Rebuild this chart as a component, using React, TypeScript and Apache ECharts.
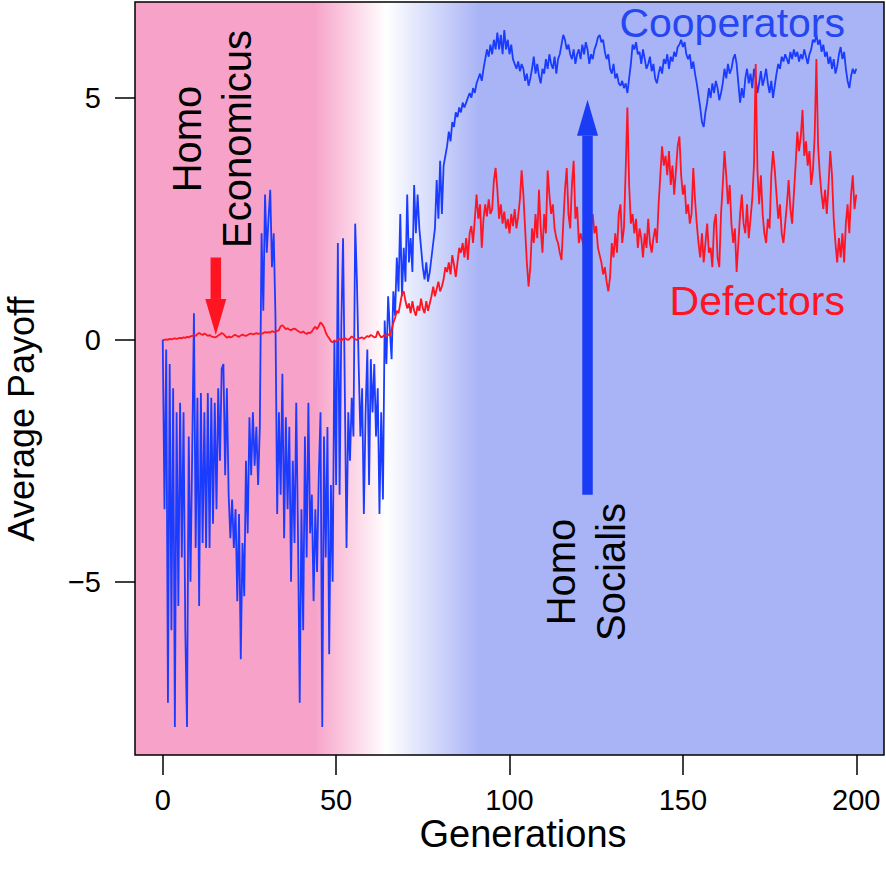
import React, { useEffect, useRef } from "react";
import * as echarts from "echarts";

// Sampling grid of the simulation (generations, every half generation)
const STEP = 0.5;

// Average payoff of cooperators, gen 0 .. 200 every 0.5
const cooperators: number[] = [
  0, -3.5, -0.2, -7.5, -0.5, -6, -1, -8.0, -1.5, -5.5, -1.3, -4.5, -1.5, -6, -8.0, -2, -5, -2.3, 0.55, -4.3,
  -1.2, -5.5, -1.1, -4.2, -1.5, -4.3, -1.1, -4.3, -1.2, -3.8, -1.3, -3.5, -1.0, -2.5, -0.6, -0.5, -2.8, -1.0, -3.2, -4.1,
  -3.3, -4.3, -3.5, -5.4, -3.6, -6.6, -4.2, -5.3, -2.5, -4.0, -1.6, -2.8, -1.5, -2.6, -1.8, -3.0, -1.8, 2.2, 0.6, 3.0,
  1.8, 2.5, 3.1, 1.5, 2.2, 0.5, -3.6, -1.5, -3.2, -0.7, -4.1, -1.6, -3.5, -1.8, -5.0, -2.5, -4.2, -1.3, -4.0, -7.5,
  -3.5, -6.0, -2.0, -4.5, -1.3, -4.0, -3.2, -5.4, -3.5, -4.8, -2.8, -1.5, -8.0, -2.0, -4.5, -1.8, -6.5, -3.0, -5.0, 0.0,
  -3.0, 2.0, -3.2, 0.3, 2.1, -1.0, -4.3, -1.5, -2.5, -1.2, -2.0, 2.4, 1.2, -0.5, -2.0, -1.0, -3.6, -1.5, -0.2, -3.0,
  -0.4, -1.5, -0.5, -2.0, -1.0, -3.6, -1.5, -3.3, 0.4, -0.5, 0.9, 0.2, -0.4, 1.0, 0.5, 1.7, 1.0, 2.6, 0.9, 1.9,
  1.2, 3.0, 1.6, 2.1, 1.4, 3.2, 2.2, 3.0, 2.3, 1.9, 1.5, 1.25, 1.6, 1.2, 1.4, 1.7, 2.0, 2.3, 3.3, 2.5,
  3.7, 2.6, 3.6, 3.8, 4.0, 4.3, 4.1, 4.5, 4.4, 4.7, 4.6, 4.8, 4.7, 4.9, 4.8, 4.9, 5.0, 5.1, 5.0, 5.2,
  5.1, 5.3, 5.4, 5.5, 5.35, 5.6, 5.8, 6.0, 5.85, 6.1, 5.9, 6.2, 6.0, 6.35, 6.0, 6.3, 5.9, 6.4, 6.0, 6.2,
  5.9, 6.1, 5.8, 5.7, 5.6, 5.75, 5.55, 5.7, 5.6, 5.35, 5.5, 5.25, 5.4, 5.6, 5.85, 5.5, 5.7, 5.45, 5.3, 5.6,
  5.5, 5.8, 5.6, 5.9, 5.7, 5.6, 5.85, 5.5, 5.8, 5.9, 6.1, 6.3, 6.2, 6.0, 6.1, 5.9, 5.8, 6.0, 5.7, 5.9,
  6.0, 5.8, 6.1, 5.9, 6.15, 6.0, 5.7, 5.9, 5.8, 6.0, 6.1, 6.25, 6.3, 6.15, 6.2, 5.95, 5.8, 5.9, 5.6, 5.5,
  5.7, 5.4, 5.5, 5.3, 5.25, 5.35, 5.2, 5.3, 5.1, 5.4, 5.7, 6.1, 6.0, 6.15, 5.9, 5.95, 5.7, 6.0, 5.8, 5.6,
  5.7, 5.85, 5.55, 5.7, 5.4, 5.3, 5.5, 5.65, 5.5, 5.8, 5.7, 5.9, 5.6, 5.85, 5.75, 5.95, 5.85, 6.05, 6.1, 6.2,
  6.05, 6.15, 5.9, 5.8, 5.9, 5.6, 5.75, 5.5, 5.3, 5.05, 4.8, 4.5, 4.4, 4.7, 4.9, 5.2, 5.0, 5.3, 5.1, 5.35,
  5.2, 4.95, 5.1, 5.3, 5.6, 5.4, 5.7, 5.5, 5.6, 5.8, 5.9, 5.7, 5.3, 4.9, 5.2, 5.0, 5.4, 5.6, 5.3, 5.5,
  5.2, 5.6, 5.4, 5.1, 5.3, 5.55, 5.25, 5.4, 5.6, 5.3, 5.1, 5.35, 5.0, 5.25, 5.5, 5.7, 5.6, 5.85, 5.75, 5.9,
  5.8, 5.7, 5.95, 5.8, 6.0, 5.85, 5.95, 5.75, 5.9, 5.8, 6.0, 5.85, 5.7, 5.9, 6.0, 6.2, 6.15, 6.3, 6.1, 6.2,
  5.95, 6.1, 5.85, 5.95, 5.7, 5.85, 5.6, 5.8, 5.5, 5.65, 5.9, 6.05, 5.8, 5.95, 5.6, 5.35, 5.2, 5.45, 5.6, 5.5,
  5.6,
];

// Average payoff of defectors, gen 0 .. 200 every 0.5
const defectors: number[] = [
  0, 0, 0.01, 0, 0.02, 0.01, 0.02, 0.03, 0.02, 0.03, 0.04, 0.03, 0.05, 0.04, 0.06, 0.05, 0.07, 0.08, 0.1, 0.08,
  0.12, 0.14, 0.12, 0.1, 0.13, 0.11, 0.08, 0.1, 0.07, 0.06, 0.05, 0.06, 0.09, 0.11, 0.14, 0.12, 0.08, 0.04, 0.07, 0.05,
  0.06, 0.09, 0.1, 0.08, 0.06, 0.09, 0.11, 0.09, 0.08, 0.1, 0.12, 0.13, 0.11, 0.12, 0.14, 0.12, 0.13, 0.12, 0.14, 0.16,
  0.15, 0.16, 0.15, 0.18, 0.16, 0.17, 0.18, 0.2, 0.28, 0.3, 0.26, 0.22, 0.24, 0.21, 0.2, 0.22, 0.23, 0.21, 0.18, 0.16,
  0.15, 0.17, 0.14, 0.12, 0.15, 0.14, 0.17, 0.23, 0.27, 0.22, 0.28, 0.36, 0.32, 0.26, 0.15, 0.08, 0.03, -0.03, -0.05, -0.02,
  -0.04, 0, 0.02, -0.02, 0.02, 0.04, 0.01, 0, 0.03, 0.07, 0.04, 0.01, 0, 0.02, 0.04, 0.05, 0.02, 0.05, 0.08, 0.06,
  0.1, 0.08, 0.05, 0.06, 0.18, 0.1, 0.05, 0.07, 0.1, 0.06, 0.12, 0.08, 0.2, 0.35, 0.45, 0.6, 0.55, 0.75, 0.95, 1.0,
  0.8, 0.65, 0.75, 0.55, 0.8, 0.6, 0.5, 0.7, 0.6, 0.85, 0.65, 0.55, 0.8, 0.6, 0.75, 0.9, 1.1, 0.9, 1.05, 1.2,
  1.0, 1.1, 1.25, 1.5, 1.4, 1.6, 1.35, 1.75, 1.55, 1.3, 1.6, 1.9, 1.8, 2.0, 1.7, 2.1, 1.65, 2.2, 2.35, 2.0,
  2.5, 3.0, 2.5, 2.8, 1.9, 2.5, 2.8, 2.55, 2.9, 2.6, 2.7, 3.3, 3.55, 3.1, 2.5, 2.8, 2.4, 2.65, 2.3, 2.5,
  2.2, 2.6, 2.35, 2.7, 2.3, 2.55, 2.9, 3.5, 3.0, 2.3, 1.6, 1.1, 1.5, 2.3, 2.0, 2.6, 2.1, 3.1, 2.3, 1.8,
  2.6, 2.2, 3.5, 3.0, 2.6, 2.8, 2.3, 2.1, 2.0, 1.8, 1.65, 2.4, 3.1, 3.55, 2.6, 2.3, 3.2, 3.7, 2.5, 2.75,
  2.0, 2.2, 2.05, 1.9, 2.2, 2.4, 2.1, 2.3, 2.6, 2.2, 2.35, 1.9, 1.75, 1.6, 1.35, 1.5, 1.2, 1.0, 1.3, 2.0,
  1.7, 2.2, 1.8, 2.6, 2.8, 2.0, 2.3, 3.5, 4.8, 3.2, 2.4, 2.6, 2.2, 2.5, 1.9, 2.3, 2.1, 1.7, 2.2, 1.9,
  2.5, 2.0, 1.8, 2.1, 2.3, 2.0, 2.8, 3.4, 4.0, 3.6, 3.8, 3.4, 3.9, 3.2, 3.6, 3.0, 3.5, 4.0, 4.2, 3.4,
  3.0, 3.2, 2.6, 2.8, 2.4, 2.6, 3.55, 2.9, 2.4, 2.0, 1.7, 2.2, 1.6, 2.0, 2.4, 1.8, 1.9, 1.5, 2.4, 2.6,
  1.7, 1.5, 2.6, 3.2, 3.9, 3.4, 2.8, 3.2, 2.4, 2.0, 2.3, 1.4, 2.0, 2.6, 3.0, 2.4, 2.2, 2.8, 2.1, 2.5,
  2.9, 3.6, 5.7, 3.5, 2.8, 3.4, 2.6, 2.2, 2.0, 2.5, 2.3, 3.4, 3.9, 3.5, 3.0, 2.5, 2.8, 2.2, 2.0, 2.4,
  2.8, 3.3, 2.7, 2.4, 3.0, 3.6, 4.3, 3.9, 4.2, 4.75, 3.8, 4.1, 3.6, 3.9, 3.2, 3.5, 4.2, 5.8, 4.0, 3.4,
  3.0, 2.7, 3.1, 2.6, 3.2, 3.9, 3.4, 2.5, 2.0, 1.6, 2.1, 1.7, 2.2, 1.6, 2.4, 2.8, 2.2, 3.0, 3.4, 2.7,
  3.0,
];

// Axis ticks
const xTicks = [0, 50, 100, 150, 200];
const yTicks = [-5, 0, 5];

// Annotation arrows: generation, payoff at tail, payoff at tip
const arrowGen = [15.3, 122.5];
const arrowFrom = [1.7, -3.2];
const arrowTo = [0.1, 4.96];

const FONT = '"Liberation Sans", Arial, Helvetica, sans-serif';
const BLUE = "#1a3cff";
const RED = "#ff1422";
const PINK = "#f7a3c9";
const LIGHTBLUE = "#a9b4f6";

export default function App() {
  const ref = useRef<HTMLDivElement>(null);

  useEffect(() => {
    if (!ref.current) return;
    const chart = echarts.init(ref.current, undefined, { renderer: "svg" });

    const coopData = cooperators.map((v, i) => [i * STEP, v]);
    const defData = defectors.map((v, i) => [i * STEP, v]);
    const arrowData = arrowGen.map((g, i) => [g, arrowFrom[i], arrowTo[i], i]);
    const arrowColors = [RED, "#1a3cf5"];

    const bg = new echarts.graphic.LinearGradient(0, 0, 1, 0, [
      { offset: 0, color: PINK },
      { offset: 0.24, color: PINK },
      { offset: 0.335, color: "#ffffff" },
      { offset: 0.46, color: LIGHTBLUE },
      { offset: 1, color: LIGHTBLUE },
    ]);

    chart.setOption({
      animation: false,
      backgroundColor: "#ffffff",
      textStyle: { fontFamily: FONT },
      grid: {
        left: 135,
        right: 2,
        top: 2,
        bottom: 117,
        show: true,
        borderColor: "#000",
        borderWidth: 1.5,
        backgroundColor: bg,
      },
      xAxis: {
        type: "value",
        min: -8,
        max: 208,
        axisLine: { show: false, onZero: false },
        splitLine: { show: false },
        axisTick: {
          show: true,
          length: 20,
          lineStyle: { color: "#000", width: 1.5 },
          customValues: xTicks,
        },
        axisLabel: {
          customValues: xTicks,
          fontSize: 29,
          color: "#000",
          margin: 30,
          fontFamily: FONT,
        },
      },
      yAxis: {
        type: "value",
        min: -8.58,
        max: 6.98,
        axisLine: { show: false, onZero: false },
        splitLine: { show: false },
        axisTick: {
          show: true,
          length: 20,
          lineStyle: { color: "#000", width: 1.5 },
          customValues: yTicks,
        },
        axisLabel: {
          customValues: yTicks,
          fontSize: 29,
          color: "#000",
          margin: 34,
          fontFamily: FONT,
          formatter: (v: number) => String(v).replace("-", "\u2212"),
        },
      },
      series: [
        {
          name: "Cooperators",
          type: "line",
          data: coopData,
          showSymbol: false,
          symbol: "none",
          lineStyle: { color: BLUE, width: 1.8 },
          z: 2,
        },
        {
          name: "Defectors",
          type: "line",
          data: defData,
          showSymbol: false,
          symbol: "none",
          lineStyle: { color: RED, width: 1.8 },
          z: 3,
        },
        {
          type: "custom",
          z: 4,
          encode: { x: 0, y: [1, 2] },
          data: arrowData,
          renderItem: (params: any, api: any) => {
            const g = api.value(0);
            const p0 = api.coord([g, api.value(1)]);
            const p1 = api.coord([g, api.value(2)]);
            const color = arrowColors[api.value(3)];
            const dir = p1[1] > p0[1] ? 1 : -1;
            const headLen = 36;
            const shaftW = 10.5;
            const headW = 21;
            const baseY = p1[1] - dir * headLen;
            return {
              type: "group",
              children: [
                {
                  type: "rect",
                  shape: {
                    x: p0[0] - shaftW / 2,
                    y: Math.min(p0[1], baseY),
                    width: shaftW,
                    height: Math.abs(baseY - p0[1]),
                  },
                  style: { fill: color },
                },
                {
                  type: "polygon",
                  shape: {
                    points: [
                      [p1[0] - headW / 2, baseY],
                      [p1[0] + headW / 2, baseY],
                      [p1[0], p1[1]],
                    ],
                  },
                  style: { fill: color },
                },
              ],
            };
          },
        },
      ],
      graphic: [
        {
          type: "text",
          x: 845,
          y: 23,
          z: 10,
          style: {
            text: "Cooperators",
            font: `41px ${FONT}`,
            fill: "#2447f2",
            textAlign: "right",
            textVerticalAlign: "middle",
          },
        },
        {
          type: "text",
          x: 845,
          y: 301,
          z: 10,
          style: {
            text: "Defectors",
            font: `41px ${FONT}`,
            fill: RED,
            textAlign: "right",
            textVerticalAlign: "middle",
          },
        },
        {
          type: "text",
          x: 212,
          y: 139,
          rotation: Math.PI / 2,
          z: 10,
          style: {
            text: "Homo\nEconomicus",
            font: `40px ${FONT}`,
            lineHeight: 50,
            fill: "#000",
            textAlign: "center",
            textVerticalAlign: "middle",
          },
        },
        {
          type: "text",
          x: 586,
          y: 572,
          rotation: Math.PI / 2,
          z: 10,
          style: {
            text: "Homo\nSocialis",
            font: `40px ${FONT}`,
            lineHeight: 50,
            fill: "#000",
            textAlign: "center",
            textVerticalAlign: "middle",
          },
        },
        {
          type: "text",
          x: 523,
          y: 834,
          style: {
            text: "Generations",
            font: `38px ${FONT}`,
            fill: "#000",
            textAlign: "center",
            textVerticalAlign: "middle",
          },
        },
        {
          type: "text",
          x: 21,
          y: 419,
          rotation: Math.PI / 2,
          style: {
            text: "Average Payoff",
            font: `36px ${FONT}`,
            fill: "#000",
            textAlign: "center",
            textVerticalAlign: "middle",
          },
        },
      ],
    });

    return () => {
      chart.dispose();
    };
  }, []);

  return (
    <div
      ref={ref}
      style={{ position: "absolute", left: 0, top: 0, width: 886, height: 872 }}
    />
  );
}
